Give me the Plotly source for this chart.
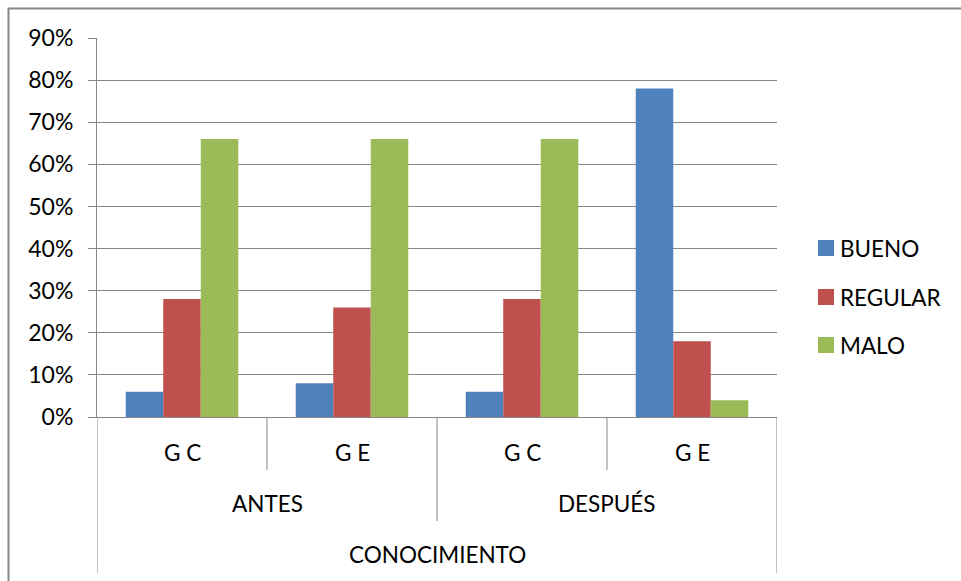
import plotly.graph_objects as go

# Survey results: knowledge level before / after, control vs experimental group
periodo = ["ANTES", "ANTES", "DESPUÉS", "DESPUÉS"]
grupo = ["G C", "G E", "G C", "G E"]
titulo_eje = "CONOCIMIENTO"

bueno = [0.06, 0.08, 0.06, 0.78]
regular = [0.28, 0.26, 0.28, 0.18]
malo = [0.66, 0.66, 0.66, 0.04]

series_nombres = ["BUENO", "REGULAR", "MALO"]
series_valores = [bueno, regular, malo]
series_colores = ["#4F81BD", "#C0504D", "#9BBB59"]

y_ticks = [i / 10 for i in range(10)]

FONT = "Lato, 'Open Sans', sans-serif"
FS = 22.5
GRID = "#878787"
W, H = 961, 581
ML, MR, MT, MB = 97, 184, 38, 164
PW, PH = W - ML - MR, H - MT - MB


def px_x(px):
    return (px - ML) / PW


def px_y(py):
    return (H - MB - py) / PH


pos = list(range(len(grupo)))

fig = go.Figure()
for nombre, valores, color in zip(series_nombres, series_valores, series_colores):
    fig.add_trace(go.Bar(
        x=pos, y=valores, name=nombre,
        marker=dict(color=color, line=dict(width=0)),
        showlegend=False,
    ))

shapes = []
annotations = []

# Category dividers below the value axis (three-level category axis)
n = len(grupo)
for i in range(n + 1):
    xb = i - 0.5
    if i == 0 or i == n:
        bottom = 573
    elif periodo[i] != periodo[i - 1]:
        bottom = 521
    else:
        bottom = 470
    shapes.append(dict(type="line", xref="x", yref="paper",
                       x0=xb, x1=xb, y0=0, y1=px_y(bottom),
                       line=dict(color=GRID, width=1)))

# Level 1: groups
for i, g in enumerate(grupo):
    annotations.append(dict(x=i, y=px_y(452), xref="x", yref="paper",
                            text=g, showarrow=False, xanchor="center", yanchor="middle",
                            font=dict(family=FONT, size=FS, color="#000")))

# Level 2: periods
vistos = []
for p in periodo:
    if p not in vistos:
        vistos.append(p)
for p in vistos:
    idx = [i for i, q in enumerate(periodo) if q == p]
    annotations.append(dict(x=sum(idx) / len(idx), y=px_y(503), xref="x", yref="paper",
                            text=p, showarrow=False, xanchor="center", yanchor="middle",
                            font=dict(family=FONT, size=FS, color="#000")))

# Level 3: overall title
annotations.append(dict(x=(n - 1) / 2, y=px_y(554), xref="x", yref="paper",
                        text=titulo_eje, showarrow=False, xanchor="center", yanchor="middle",
                        font=dict(family=FONT, size=FS, color="#000")))

# Legend (drawn as swatches + labels)
legend_y = [248, 297, 345]
for nombre, color, ly in zip(series_nombres, series_colores, legend_y):
    shapes.append(dict(type="rect", xref="paper", yref="paper",
                       x0=px_x(818), x1=px_x(834), y0=px_y(ly + 8), y1=px_y(ly - 8),
                       fillcolor=color, line=dict(width=0)))
    annotations.append(dict(x=px_x(838), y=px_y(ly), xref="paper", yref="paper",
                            text=nombre, showarrow=False, xanchor="left", yanchor="middle",
                            font=dict(family=FONT, size=FS, color="#000")))

# Outer chart-area frame
shapes.append(dict(type="rect", xref="paper", yref="paper",
                   x0=px_x(8.5), x1=px_x(1000), y0=px_y(620), y1=px_y(8.5),
                   line=dict(color="#888888", width=2), fillcolor="rgba(0,0,0,0)"))

fig.update_layout(
    width=W, height=H,
    margin=dict(l=ML, r=MR, t=MT, b=MB, pad=0),
    paper_bgcolor="white", plot_bgcolor="white",
    barmode="group", bargap=0.338, bargroupgap=0,
    shapes=shapes, annotations=annotations,
    font=dict(family=FONT, size=FS, color="#000"),
    showlegend=False,
)
fig.update_xaxes(
    range=[-0.5, n - 0.5], showticklabels=False, showgrid=False, zeroline=False,
    showline=True, linecolor=GRID, linewidth=1, ticks="",
)
fig.update_yaxes(
    range=[0, 0.9], tickvals=y_ticks, tickformat=".0%",
    showgrid=True, gridcolor=GRID, gridwidth=1, zeroline=False,
    showline=True, linecolor=GRID, linewidth=1,
    ticks="outside", ticklen=8, tickcolor=GRID,
    ticklabelstandoff=10,
    tickfont=dict(family=FONT, size=23, color="#000"),
)

fig.write_html("out.html")
